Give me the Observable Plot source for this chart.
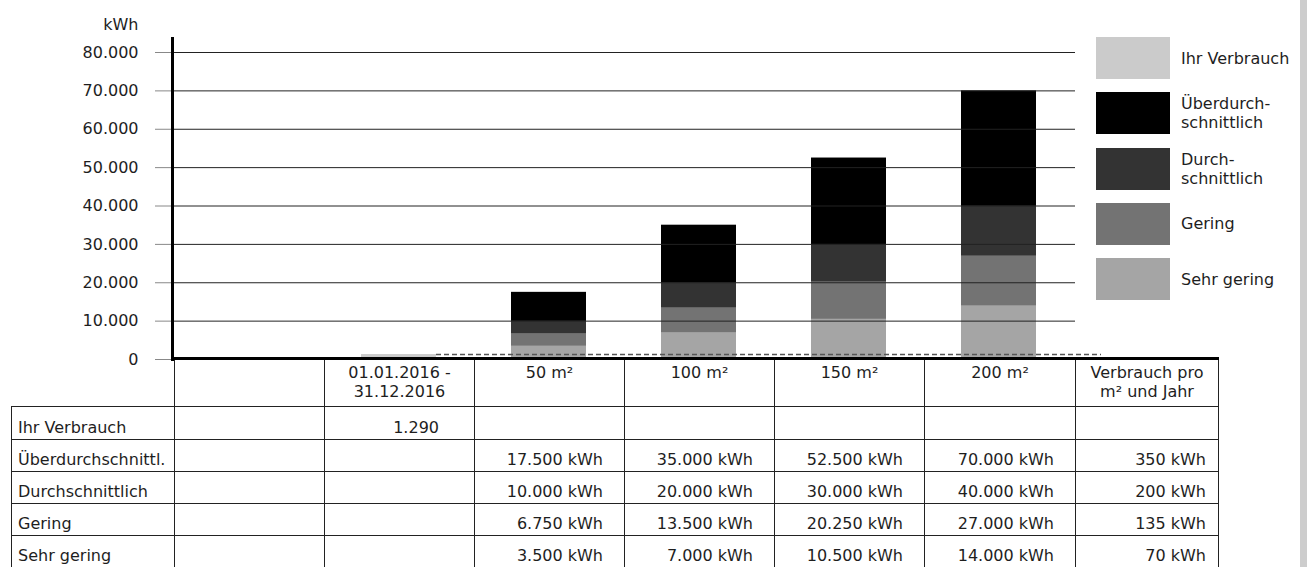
<!DOCTYPE html>
<html>
<head>
<meta charset="utf-8">
<script src="https://cdn.jsdelivr.net/npm/d3@7"></script>
<script src="https://cdn.jsdelivr.net/npm/@observablehq/plot@0.6"></script>
<style>
  body { margin: 0; background: #fff; font-family: "DejaVu Sans", sans-serif; color: #1e1e1e; }
  #wrap { position: relative; width: 1310px; height: 567px; overflow: hidden; background: #fff; }
  #chart { position: absolute; left: 0; top: 0; }
  .cell { position: absolute; box-sizing: border-box; font-size: 16px; line-height: 19px; white-space: pre; display: flex; }
  .lg-item { position: absolute; left: 1096px; height: 42px; display: flex; align-items: center; }
  .lg-sw { width: 74px; height: 42px; }
  .lg-tx { margin-left: 11px; font-size: 16px; line-height: 19px; white-space: pre; }
  #strip { position: absolute; left: 1300px; top: 0; width: 7px; height: 567px; background: #cdcdcd; }
</style>
</head>
<body>
<div id="wrap">
  <div id="chart"></div>
  <div id="table"></div>
  <div id="legend"></div>
  <div id="strip"></div>
</div>
<script>
// ---------- data ----------
const blankCategory = " ";
const periodLabel = "01.01.2016 -\n31.12.2016";
const sizeLabels = ["50 m²", "100 m²", "150 m²", "200 m²"];
const perM2Header = "Verbrauch pro\nm² und Jahr";

const userLabel = "Ihr Verbrauch";
const userValue = 1290;

const seriesNames = ["Überdurchschnittlich", "Durchschnittlich", "Gering", "Sehr gering"];
const rowLabels = ["Überdurchschnittl.", "Durchschnittlich", "Gering", "Sehr gering"];
const ueberdurchschnittlich = [17500, 35000, 52500, 70000];
const durchschnittlich = [10000, 20000, 30000, 40000];
const gering = [6750, 13500, 20250, 27000];
const sehrGering = [3500, 7000, 10500, 14000];
const perM2 = [350, 200, 135, 70];

const yTicks = [0, 10000, 20000, 30000, 40000, 50000, 60000, 70000, 80000];
const yUnit = "kWh";

const legendNames = [userLabel, ...seriesNames];
const legendLabels = ["Ihr Verbrauch", "Überdurch-\nschnittlich", "Durch-\nschnittlich", "Gering", "Sehr gering"];
const colors = ["#cbcbcb", "#000000", "#333333", "#737373", "#a5a5a5"];

// ---------- build ----------
const seriesValues = [ueberdurchschnittlich, durchschnittlich, gering, sehrGering];
const barData = [{cat: periodLabel, series: userLabel, value: userValue}];
sizeLabels.forEach((s, i) => {
  seriesNames.forEach((n, j) => barData.push({cat: s, series: n, value: seriesValues[j][i]}));
});

const fmt = v => d3.format(",")(v).replace(/,/g, ".");

const chart = Plot.plot({
  width: 1310,
  height: 372,
  marginLeft: 172,
  marginRight: 235,
  marginTop: 38,
  marginBottom: 13,
  style: {fontFamily: "DejaVu Sans", fontSize: "16px", color: "#1e1e1e", background: "transparent"},
  x: {domain: [blankCategory, periodLabel, ...sizeLabels], paddingInner: 0.5, paddingOuter: 0.25, axis: null},
  y: {domain: [0, 83650], axis: null},
  color: {domain: legendNames, range: colors},
  marks: [
    Plot.barY(barData, {x: "cat", y1: 0, y2: "value", fill: "series"}),
    Plot.gridY(yTicks, {stroke: "#222", strokeOpacity: 1, strokeWidth: 1}),
    Plot.axisY(yTicks, {tickSize: 17, tickPadding: 17, tickFormat: fmt, stroke: "#888", fontSize: 16, label: null}),
    Plot.ruleY([userValue], {stroke: "#555", strokeWidth: 1.5, strokeDasharray: "5,3", insetLeft: 264, insetRight: -26}),
    Plot.frame({anchor: "left", stroke: "#000", strokeWidth: 3}),
    Plot.text([yUnit], {text: d => d, frameAnchor: "top-left", textAnchor: "end", lineAnchor: "middle", dx: -34, dy: -14, fontSize: 16})
  ]
});
document.getElementById("chart").appendChild(chart);

// ---------- table ----------
const xs = chart.scale("x");
const bw = xs.bandwidth, step = xs.step;
const cats = [blankCategory, periodLabel, ...sizeLabels];
const colEdges = [11, ...cats.map(c => Math.round(xs.apply(c) - (step - bw) / 2)), 1075, 1218];
const rowEdges = [359, 406, 439, 471, 503, 535, 567];
const tableEl = document.getElementById("table");
const line = "1px solid #222";

function cell(r, c, text, opts) {
  const d = document.createElement("div");
  d.className = "cell";
  const x0 = colEdges[c], x1 = colEdges[c + 1], y0 = rowEdges[r], y1 = rowEdges[r + 1];
  d.style.left = x0 + "px";
  d.style.top = y0 + "px";
  d.style.width = (x1 - x0 + 1) + "px";
  d.style.height = (y1 - y0 + 1) + "px";
  Object.assign(d.style, opts);
  d.textContent = text;
  tableEl.appendChild(d);
}

// header row
const headers = ["", "", periodLabel, ...sizeLabels, perM2Header];
headers.forEach((h, c) => {
  if (c === 0) return;
  cell(0, c, h, {borderLeft: line, borderRight: line, justifyContent: "center", alignItems: "flex-start", paddingTop: "4px", textAlign: "center"});
});
// body rows
const bodyRows = [
  [userLabel, "", fmt(userValue), "", "", "", "", ""],
  ...rowLabels.map((lab, j) => [lab, "", "", ...seriesValues[j].map(v => fmt(v) + " kWh"), perM2[j] + " kWh"])
];
bodyRows.forEach((row, r) => {
  row.forEach((t, c) => {
    const base = {border: line, alignItems: "flex-end", paddingBottom: "2px"};
    if (c === 0) Object.assign(base, {justifyContent: "flex-start", paddingLeft: "6px", overflow: "visible"});
    else if (c === 2) Object.assign(base, {justifyContent: "flex-end", paddingRight: "35px"});
    else if (c === 7) Object.assign(base, {justifyContent: "flex-end", paddingRight: "12px"});
    else Object.assign(base, {justifyContent: "flex-end", paddingRight: "21px"});
    cell(r + 1, c, t, base);
  });
});
// thick baseline / table top
const topLine = document.createElement("div");
Object.assign(topLine.style, {position: "absolute", left: colEdges[1] + "px", top: "357px", width: (colEdges[8] - colEdges[1] + 1) + "px", height: "3px", background: "#000"});
tableEl.appendChild(topLine);

// ---------- legend ----------
const legendEl = document.getElementById("legend");
legendLabels.forEach((lab, i) => {
  const it = document.createElement("div");
  it.className = "lg-item";
  it.style.top = (37 + i * 55.25) + "px";
  const sw = document.createElement("div");
  sw.className = "lg-sw";
  sw.style.background = colors[i];
  const tx = document.createElement("div");
  tx.className = "lg-tx";
  tx.textContent = lab;
  it.appendChild(sw);
  it.appendChild(tx);
  legendEl.appendChild(it);
});
</script>
</body>
</html>
